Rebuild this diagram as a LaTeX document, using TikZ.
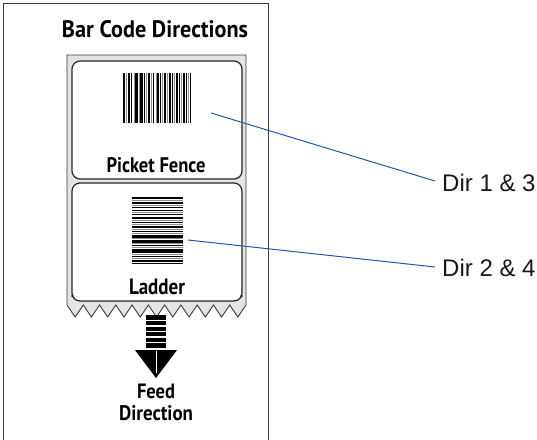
\documentclass[tikz,border=0pt]{standalone}
\usepackage{fontspec}
\usepackage{graphicx}
\newfontfamily\lblfont{PT Sans}
\newfontfamily\dirfont{Liberation Sans}
\definecolor{lineblue}{RGB}{30,90,170}
\definecolor{backgray}{RGB}{228,228,228}
\definecolor{bargray}{RGB}{140,140,140}
\definecolor{framegray}{RGB}{60,60,60}
\tikzset{
  frameline/.style={draw=framegray, line width=1pt},
  backing/.style={draw=framegray, fill=backgray, line width=0.9pt, line join=miter},
  labelbox/.style={draw=black!85, fill=white, line width=1.2pt, rounded corners=8pt},
  lbl/.style={inner sep=0pt, font=\lblfont\bfseries},
  dirlbl/.style={inner sep=0pt, anchor=west, font=\dirfont\fontsize{24}{28}\selectfont, text=black!90},
  pointer/.style={draw=lineblue, line width=1pt},
}
\begin{document}
\begin{tikzpicture}[x=1pt,y=-1pt]
\useasboundingbox (0,0) rectangle (537,439);
\fill[white] (0,0) rectangle (537,439);
% outer frame
\draw[frameline] (3,445) -- (3,3) -- (268,3) -- (268,445);
% title
\node[lbl] (title) at (155,29) {\resizebox{186pt}{17pt}{\fontsize{22}{24}\selectfont Bar Code Directions}};
% backing paper with zigzag bottom
\draw[backing] (67,305) -- (67,55) -- (246,55) -- (246,305)
  \foreach \k in {1,...,11}{ -- ++(-8.136,12) -- ++(-8.136,-12)};
% labels
\draw[labelbox] (72,61) rectangle (242,179);
\draw[labelbox] (72,183) rectangle (242,301);
\fill[black!85] (72.5,296) circle (1.3);
\fill[black!85] (241.5,296) circle (1.3);
% picket fence barcode
\foreach \a/\w/\c in {0/1.5/black, 3/1/bargray, 5/2/black, 8/1/black, 10.5/1/bargray, 12/3/black, 15.5/1/bargray, 17/2.5/black, 21/1/black, 23/1/bargray, 25/2/black, 28/1/bargray, 30/1/black, 32.5/1/bargray, 34/1.5/black, 37/1/black, 39/1/bargray, 41/2/black, 44/1/bargray, 46/1.5/black, 49/1/black, 51/1/bargray, 53/2/black, 56/1/black, 58/1/bargray, 60/1.5/black, 63/1/black, 65/1/bargray, 66.5/1.5/black}
  \fill[\c] (123+\a,73) rectangle ++(\w,50);
% ladder barcode
\foreach \a/\w/\c in {0/2/black, 3/1/bargray, 5/1.5/black, 8/1/bargray, 10/1/black, 12.5/1.5/black, 15/1/bargray, 17/1/black, 19.5/2/black, 23/1/bargray, 25/1/black, 27/1/bargray, 29/1.5/black, 32/1/bargray, 34/1/black, 36/1/bargray, 37.5/3/black, 41/1/bargray, 42.5/3/black, 46/1/bargray, 48/1/black, 50/1/bargray, 52/1.5/black, 54/2/black, 57/1/bargray, 59/1/black, 61/1/bargray, 63/1.5/black, 65.5/1.5/black}
  \fill[\c] (132,197+\a) rectangle ++(51,\w);
% label texts
\node[lbl] (picket) at (156,165.5) {\resizebox{99pt}{15pt}{\fontsize{19}{22}\selectfont Picket Fence}};
\node[lbl] (ladder) at (157,287) {\resizebox{56pt}{15.5pt}{\fontsize{19}{22}\selectfont Ladder}};
% feed direction arrow
\foreach \y/\h in {315/4.5, 321/4, 326.5/4, 332/4, 337.5/4, 343/5}
  \fill[black] (146,\y) rectangle ++(20,\h);
\fill[black] (135,350) -- (177,350) -- (156,378) -- cycle;
\draw[white, line width=0.6pt] (156,351) -- (156,373);
\node[lbl] (feed) at (156,391.5) {\resizebox{38pt}{14.5pt}{\fontsize{19}{22}\selectfont Feed}};
\node[lbl] (direction) at (156,413) {\resizebox{74pt}{15pt}{\fontsize{19}{22}\selectfont Direction}};
% direction labels and pointers
\node[dirlbl] (dir13) at (442,183) {Dir 1 \& 3};
\node[dirlbl] (dir24) at (442,268) {Dir 2 \& 4};
\coordinate (p1) at (211,113);
\coordinate (p2) at (188,240);
\coordinate (e1) at (435,181);
\coordinate (e2) at (435,267);
\draw[pointer] (p1) -- (e1);
\draw[pointer] (p2) -- (e2);
\end{tikzpicture}
\end{document}
